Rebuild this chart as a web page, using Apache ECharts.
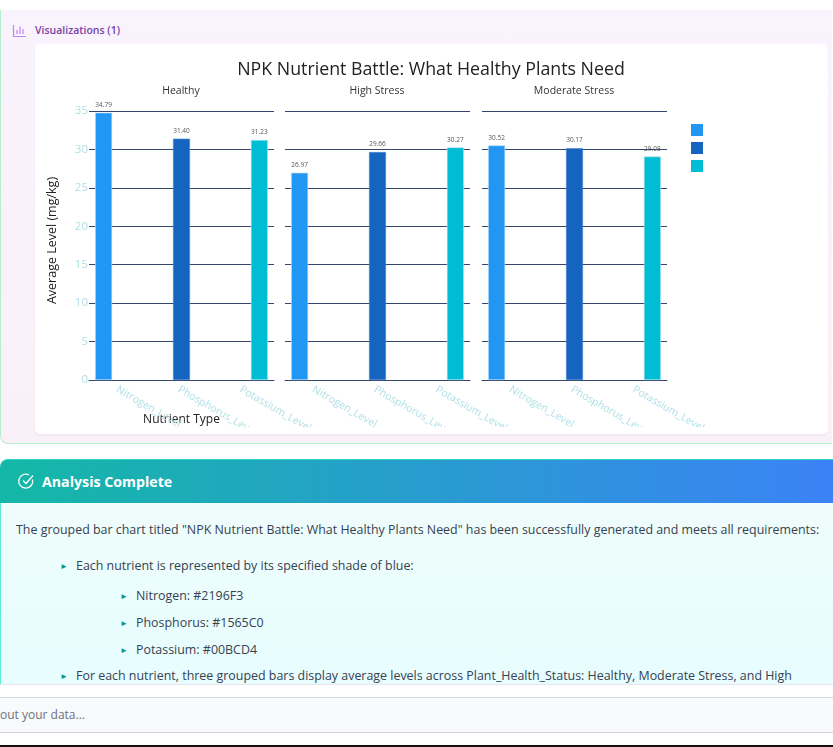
<!DOCTYPE html>
<html><head><meta charset="utf-8">
<script src="https://cdn.jsdelivr.net/npm/echarts@6/dist/echarts.min.js"></script>
<style>
html,body{margin:0;padding:0;background:#fff;width:833px;height:747px;overflow:hidden;font-family:"Open Sans","Noto Sans",sans-serif;}
.abs{position:absolute;white-space:nowrap;}
#panel{left:0;top:10px;width:831px;height:433px;background:linear-gradient(180deg,#f9f3fd,#faf0f8);border:1px solid #b6efd0;border-top:none;border-right:none;border-radius:0 0 0 8px;}
#card{left:35px;top:44px;width:793px;height:390px;background:#fff;border-radius:5px;box-shadow:0 1px 2px rgba(0,0,0,.05);}
#chart{left:35px;top:44px;width:793px;height:383px;}
#head{left:0;top:459px;width:833px;height:44px;background:linear-gradient(90deg,#14b8a6,#3b82f6);border-top:1px solid #2dd4bf;border-radius:8px 0 0 0;box-sizing:border-box;}
#body{left:0;top:503px;width:833px;height:181px;background:linear-gradient(180deg,#effdfb,#e7fdff);border-left:1px solid #5eead4;box-sizing:border-box;}
.t{font-size:12.43px;color:#374151;line-height:16px;}
.b{font-size:8px;color:#0d9488;line-height:16px;}
</style></head><body>
<div class="abs" id="panel"></div>
<svg class="abs" style="left:12px;top:24px" width="15" height="14" viewBox="0 0 15 14" fill="none" stroke="#c084fc" stroke-width="1.2"><path d="M1.5 1v11.5h12.5"/><path d="M5 10V6M8 10V2.5M11 10V5"/></svg>
<div class="abs" style="left:35px;top:22px;font-size:10.5px;font-weight:600;color:#7b3fa6;line-height:16px;">Visualizations (1)</div>
<div class="abs" id="card"></div>
<div class="abs" id="chart"></div>
<div class="abs" id="head"></div>
<svg class="abs" style="left:17px;top:472px" width="18" height="18" viewBox="0 0 18 18" fill="none" stroke="#fff" stroke-width="1.3"><path d="M15.5 7.5A7 7 0 1 1 12 3"/><path d="M6 8.5l3 3 7-8"/></svg>
<div class="abs" style="left:42px;top:472px;font-size:14.2px;font-weight:700;color:#fff;line-height:19px;">Analysis Complete</div>
<div class="abs" id="body"></div>
<div class="abs t" style="left:16px;top:522px;">The grouped bar chart titled "NPK Nutrient Battle: What Healthy Plants Need" has been successfully generated and meets all requirements:</div>
<div class="abs b" style="left:60px;top:558px;">&#9658;</div><div class="abs t" style="left:76px;top:558px;">Each nutrient is represented by its specified shade of blue:</div>
<div class="abs b" style="left:120px;top:588px;">&#9658;</div><div class="abs t" style="left:136px;top:588px;">Nitrogen: #2196F3</div>
<div class="abs b" style="left:120px;top:615px;">&#9658;</div><div class="abs t" style="left:136px;top:615px;">Phosphorus: #1565C0</div>
<div class="abs b" style="left:120px;top:642px;">&#9658;</div><div class="abs t" style="left:136px;top:642px;">Potassium: #00BCD4</div>
<div class="abs b" style="left:60px;top:668px;">&#9658;</div><div class="abs t" style="left:76px;top:668px;">For each nutrient, three grouped bars display average levels across Plant_Health_Status: Healthy, Moderate Stress, and High</div>
<div class="abs" style="left:0;top:684px;width:833px;height:61px;background:#fff;border-top:1px solid #e5e7eb;box-sizing:border-box;"></div>
<div class="abs" style="left:-10px;top:697px;width:853px;height:36px;background:#f9fafb;border:1px solid #d1d5db;box-sizing:border-box;"></div>
<div class="abs" style="left:0;top:707px;font-size:12px;line-height:16px;color:#6b7280;">out your data...</div>
<div class="abs" style="left:0;top:745px;width:833px;height:2px;background:#111;"></div>
<script>
var statuses = ['Healthy', 'High Stress', 'Moderate Stress'];
var nutrients = ['Nitrogen_Level', 'Phosphorus_Level', 'Potassium_Level'];
var nitrogen = [34.79, 26.97, 30.52];
var phosphorus = [31.40, 29.66, 30.17];
var potassium = [31.23, 30.27, 29.08];

var colors = ['#2196F3', '#1565C0', '#00BCD4'];
var edges = ['#BBDEFB', '#4F86D0', '#B2EBF2'];
var values = [nitrogen, phosphorus, potassium];
var lefts = [54, 250, 447];
// Wide spacing between bars: each nutrient occupies one slot out of a row of 19 narrow category bands.
var slots = [1, 9, 17];
var bands = [];
for (var k = 0; k < 19; k++) bands.push({value: 'b' + k});
slots.forEach(function (s, i) { bands[s] = {value: nutrients[i]}; });

var grids = [], barAxes = [], labelAxes = [], yAxes = [], series = [], titles = [];
titles.push({text: 'NPK Nutrient Battle: What Healthy Plants Need', left: 396, top: 17, padding: 0, textAlign: 'center',
  textStyle: {fontFamily: 'Open Sans', fontSize: 17.8, fontWeight: 'normal', color: '#222'}});
statuses.forEach(function (s, g) {
  grids.push({left: lefts[g], top: 67, width: 185, height: 269, outerBoundsMode: 'none', containLabel: false});
  titles.push({text: s, left: lefts[g] + 92, top: 42, padding: 0, textAlign: 'center',
    textStyle: {fontFamily: 'Open Sans', fontSize: 10.5, fontWeight: 'normal', color: '#333'}});
  barAxes.push({
    type: 'category', gridIndex: g, data: bands, splitLine: {show: false},
    axisLine: {show: true, onZero: false, lineStyle: {color: '#34466b', width: 1}},
    axisTick: {show: false}, axisLabel: {show: false}
  });
  // The tick labels sit on their own evenly spaced axis, as they do in the reference.
  labelAxes.push({
    type: 'category', gridIndex: g, position: 'bottom', data: nutrients, splitLine: {show: false},
    axisLine: {show: false}, axisTick: {show: false},
    name: g === 0 ? 'Nutrient Type' : '', nameLocation: 'middle', nameGap: 34, nameMoveOverlap: false,
    nameTextStyle: {fontFamily: 'Open Sans', fontSize: 12, color: '#222'},
    axisLabel: {interval: 0, rotate: -30, margin: 4, color: '#B0E0E6', verticalAlign: 'top',
      fontFamily: 'Open Sans', fontSize: 10.5, align: 'left', hideOverlap: false}
  });
  yAxes.push({
    type: 'value', gridIndex: g, min: 0, max: 35, interval: 5,
    splitLine: {show: true, lineStyle: {color: '#34466b', width: 1}},
    axisLine: {show: false}, axisTick: {show: false},
    name: g === 0 ? 'Average Level (mg/kg)' : '', nameLocation: 'middle', nameGap: 30,
    nameTextStyle: {fontFamily: 'Open Sans', fontSize: 12.5, color: '#222', padding: [0, 0, 0, 10]},
    axisLabel: {show: g === 0, margin: 1, color: '#B0E0E6', fontFamily: 'Open Sans', fontSize: 11.5, padding: [2, 0, 0, 0]}
  });
  nutrients.forEach(function (n, i) {
    var row = bands.map(function (b, k) { return k === slots[i] ? values[i][g] : null; });
    series.push({
      type: 'bar', name: n, xAxisIndex: g, yAxisIndex: g, barWidth: 17, barGap: '-100%',
      data: row,
      itemStyle: {color: colors[i], borderColor: edges[i], borderWidth: 0.6},
      label: {show: true, position: 'top', distance: 4, fontFamily: 'Open Sans', fontSize: 6.5, color: '#555',
        formatter: function (p) { return p.value.toFixed(2); }}
    });
  });
});
var chart = echarts.init(document.getElementById('chart'), null, {renderer: 'canvas'});
chart.setOption({
  animation: false, backgroundColor: 'transparent', color: colors,
  title: titles, grid: grids, xAxis: barAxes.concat(labelAxes), yAxis: yAxes, series: series,
  legend: {show: true, left: 656, top: 80, padding: 0, orient: 'vertical', icon: 'rect', itemWidth: 12, itemHeight: 12, itemGap: 6,
    data: nutrients, formatter: function () { return ''; }, selectedMode: false,
    itemStyle: {borderWidth: 0}}
});
</script>
</body></html>
